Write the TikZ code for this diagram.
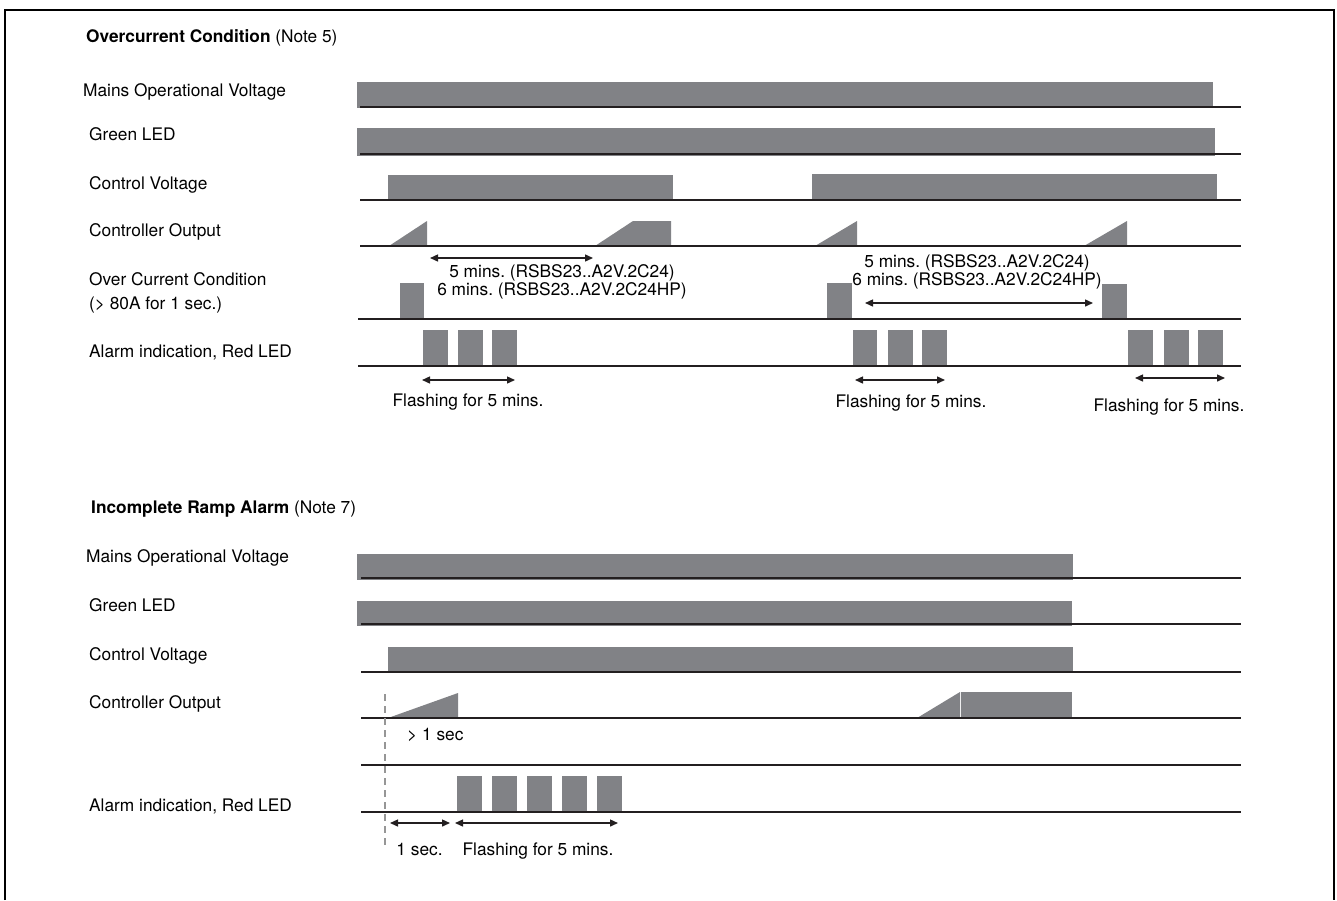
\documentclass[tikz,border=0pt]{standalone}
\usepackage{fontspec}
\setmainfont{TeX Gyre Heros}
\frenchspacing
\usetikzlibrary{arrows.meta,positioning}
\definecolor{barGray}{RGB}{129,130,134}
\definecolor{axisBlack}{RGB}{35,31,32}
\definecolor{markGray}{RGB}{150,150,150}
\tikzset{
  bar/.style={fill=barGray},
  axis/.style={draw=axisBlack, line width=1.8pt},
  span/.style={{Triangle[length=8pt,width=7pt]}-{Triangle[length=8pt,width=7pt]},
    line width=1.4pt, draw=axisBlack},
  rowname/.style={font=\fontsize{17.3}{24}\selectfont, anchor=base west,
    align=left, inner sep=0pt},
  heading/.style={font=\fontsize{17.3}{19}\selectfont, anchor=base west, inner sep=0pt},
  note/.style={font=\fontsize{17.3}{17.5}\selectfont, align=center, inner sep=0pt},
  frame/.style={draw=black, line width=2pt}
}
\begin{document}
\begin{tikzpicture}[x=1pt,y=-1pt]
  \useasboundingbox (0,0) rectangle (1337,900);
  \draw[frame] (4.5,900) -- (4.5,9.5) -- (1333.5,9.5) -- (1333.5,900);

  \node[heading] (oc-title) at (86,42) {\textbf{Overcurrent Condition} (Note 5)};
  \node[rowname] (oc-mains) at (83,96) {Mains Operational Voltage};
  \node[rowname] (oc-green) at (89,140) {Green LED};
  \node[rowname] (oc-ctrl) at (89,189) {Control Voltage};
  \node[rowname] (oc-out) at (89,236) {Controller Output};
  \node[rowname] (oc-cond) at (89,309) {Over Current Condition\\(> 80A for 1 sec.)};
  \node[rowname] (oc-alarm) at (89,357) {Alarm indication, Red LED};

  \fill[bar] (357,82) rectangle (1213,108);
  \fill[bar] (357,128) rectangle (1215,156);
  \fill[bar] (388,175) rectangle (673,201); \fill[bar] (812,174) rectangle (1217,201);
  \fill[bar] (389,246) -- (427,221) -- (427,246) -- cycle;
  \fill[bar] (595,246) -- (633,221) -- (671,221) -- (671,246) -- cycle;
  \fill[bar] (815,246) -- (857,221) -- (857,246) -- cycle;
  \fill[bar] (1084,246) -- (1127,221) -- (1127,246) -- cycle;
  \fill[bar] (400,283) rectangle (424,320); \fill[bar] (827,283) rectangle (852,320);
  \fill[bar] (1102,284) rectangle (1127,320);
  \fill[bar] (423,330) rectangle (448,367); \fill[bar] (458,330) rectangle (483,367);
  \fill[bar] (492,330) rectangle (517,367);
  \fill[bar] (853,330) rectangle (877,367); \fill[bar] (888,330) rectangle (913,367);
  \fill[bar] (922,330) rectangle (947,367);
  \fill[bar] (1128,330) rectangle (1153,367); \fill[bar] (1164,330) rectangle (1189,367);
  \fill[bar] (1198,330) rectangle (1223,367);
  \draw[axis] (360,107) -- (1241,107); \draw[axis] (360,154) -- (1241,154);
  \draw[axis] (360,200) -- (1241,200); \draw[axis] (360,246) -- (1241,246);
  \draw[axis] (358,319) -- (1241,319); \draw[axis] (358,366) -- (1241,366);

  \coordinate (wait1a) at (430,258); \coordinate (wait1b) at (593,258);
  \coordinate (wait2a) at (865,303); \coordinate (wait2b) at (1093,303);
  \coordinate (flash1a) at (422,380); \coordinate (flash1b) at (515,380);
  \coordinate (flash2a) at (855,380); \coordinate (flash2b) at (945,380);
  \coordinate (flash3a) at (1135,378); \coordinate (flash3b) at (1225,378);
  \draw[span] (wait1a) -- (wait1b); \draw[span] (wait2a) -- (wait2b);
  \draw[span] (flash1a) -- (flash1b); \draw[span] (flash2a) -- (flash2b);
  \draw[span] (flash3a) -- (flash3b);
  \node[note] (wait1) at (562,282) {5 mins. (RSBS23..A2V.2C24)\\6 mins. (RSBS23..A2V.2C24HP)};
  \node[note] (wait2) at (977,272) {5 mins. (RSBS23..A2V.2C24)\\6 mins. (RSBS23..A2V.2C24HP)};
  \node[note, anchor=base] (flash1) at (468,406) {Flashing for 5 mins.};
  \node[note, anchor=base] (flash2) at (911,407) {Flashing for 5 mins.};
  \node[note, anchor=base] (flash3) at (1169,411) {Flashing for 5 mins.};

  \node[heading] (ir-title) at (91,513) {\textbf{Incomplete Ramp Alarm} (Note 7)};
  \node[rowname] (ir-mains) at (86,562) {Mains Operational Voltage};
  \node[rowname] (ir-green) at (89,611) {Green LED};
  \node[rowname] (ir-ctrl) at (89,660) {Control Voltage};
  \node[rowname] (ir-out) at (89,708) {Controller Output};
  \node[rowname] (ir-alarm) at (89,811) {Alarm indication, Red LED};

  \fill[bar] (357,554) rectangle (1073,580);
  \fill[bar] (357,601) rectangle (1072,626);
  \fill[bar] (388,647) rectangle (1073,673);
  \fill[bar] (388,718) -- (458,693) -- (458,718) -- cycle;
  \fill[bar] (917,718) -- (960,692) -- (960,718) -- cycle;
  \fill[bar] (961,692) rectangle (1072,718);
  \fill[bar] (457,776) rectangle (482,813); \fill[bar] (492,776) rectangle (517,813);
  \fill[bar] (527,776) rectangle (552,813); \fill[bar] (562,776) rectangle (587,813);
  \fill[bar] (597,776) rectangle (622,813);
  \draw[axis] (361,578) -- (1241,578); \draw[axis] (361,624) -- (1241,624);
  \draw[axis] (361,672) -- (1241,672); \draw[axis] (361,718) -- (1241,718);
  \draw[axis] (361,765) -- (1241,765); \draw[axis] (361,812) -- (1241,812);
  \draw[markGray, line width=1.3pt, dash pattern=on 7pt off 5pt] (385,694) -- (385,845);

  \coordinate (delay-a) at (390,823); \coordinate (delay-b) at (450,823);
  \coordinate (flash4a) at (455,823); \coordinate (flash4b) at (618,823);
  \draw[span] (delay-a) -- (delay-b); \draw[span] (flash4a) -- (flash4b);
  \node[note, anchor=base west] (ramp) at (407,740) {> 1 sec};
  \node[note, anchor=base] (delay) at (419.5,855) {1 sec.};
  \node[note, anchor=base] (flash4) at (538,855) {Flashing for 5 mins.};
\end{tikzpicture}
\end{document}
